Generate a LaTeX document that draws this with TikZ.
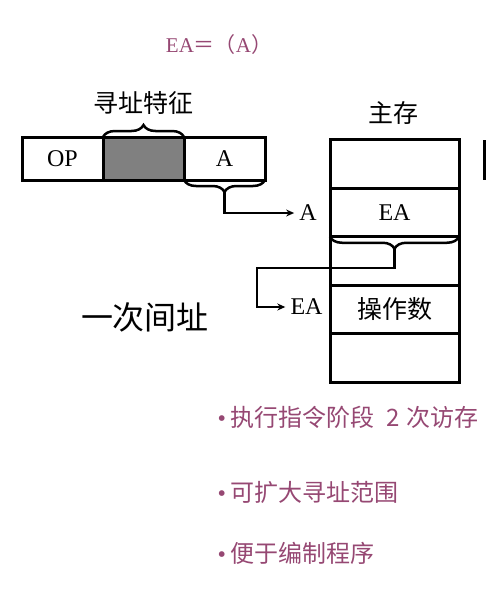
\documentclass[tikz,border=0pt]{standalone}
\usepackage{fontspec}
\setmainfont{Liberation Serif}
\newfontfamily\cjk{Noto Sans CJK SC}
\usetikzlibrary{arrows.meta, positioning, decorations.pathreplacing}
\definecolor{notecolor}{RGB}{150,72,115}
\newcommand{\notedot}{{\rmfamily •}\hspace{5pt}}

\begin{document}
\begin{tikzpicture}[
    x=1pt, y=-1pt,
    cell/.style={draw, line width=3pt, inner sep=0pt, outer sep=0pt, font=\fontsize{24}{24}\selectfont},
    instr/.style={cell, minimum width=81pt, minimum height=43pt},
    memcell/.style={cell, minimum width=129pt, minimum height=48.5pt},
    lbl/.style={font=\cjk\fontsize{25}{25}\selectfont},
    curly/.style={decorate, decoration={brace, amplitude=12pt}, line width=2.5pt},
    link/.style={line width=2.5pt, -{Stealth[length=8pt, width=7pt]}},
    note/.style={anchor=west, text=notecolor, font=\cjk\fontsize{24}{24}\selectfont}
]
    \useasboundingbox (0,0) rectangle (486,614);

    % 公式
    \node[text=notecolor, font=\fontsize{21}{21}\selectfont] (formula) at (219,45) {EA{\cjk ＝（}A{\cjk ）}};

    % 指令格式
    \node[instr] (op) at (62.5,158.5) {OP};
    \node[instr, fill=gray, right=0pt of op] (feat) {};
    \node[instr, right=0pt of feat] (addr) {A};
    \draw[curly] (feat.north west) -- (feat.north east);
    \node[lbl] (feature) at (143,103) {寻址特征};
    \draw[curly] (addr.south east) -- (addr.south west);
    \coordinate (tipA) at ([yshift=-12pt]addr.south);

    % 主存
    \node[memcell] (m1) at (394.5,164) {};
    \node[memcell, below=0pt of m1] (m2) {EA};
    \node[memcell, below=0pt of m2] (m3) {};
    \node[memcell, below=0pt of m3, font=\cjk\fontsize{25}{25}\selectfont] (m4) {操作数};
    \node[memcell, below=0pt of m4] (m5) {};
    \node[lbl] (memory) at (393,113) {主存};
    \draw[line width=3pt] (484.5,140) -- (484.5,180);

    % 地址
    \node[font=\fontsize{24}{24}\selectfont, inner sep=5pt] (ptrA) at (308,213) {A};
    \node[font=\fontsize{24}{24}\selectfont, inner sep=5pt] (ptrEA) at (306.5,307) {EA};
    \draw[link] (tipA) |- (ptrA.west);

    \draw[curly] (m3.north east) -- (m3.north west);
    \coordinate (tipM) at ([yshift=-12pt]m3.north);
    \coordinate (bendM) at (257,268);
    \draw[link] (tipM) |- (bendM) |- (ptrEA.west);

    \node[font=\cjk\fontsize{32}{32}\selectfont] (mode) at (145,317) {一次间址};

    % 特点
    \node[note] (b1) at (214,417) {\notedot 执行指令阶段\hspace{12pt}2\hspace{6pt}次访存};
    \node[note] (b2) at (214,492) {\notedot 可扩大寻址范围};
    \node[note] (b3) at (214,553) {\notedot 便于编制程序};
\end{tikzpicture}
\end{document}
